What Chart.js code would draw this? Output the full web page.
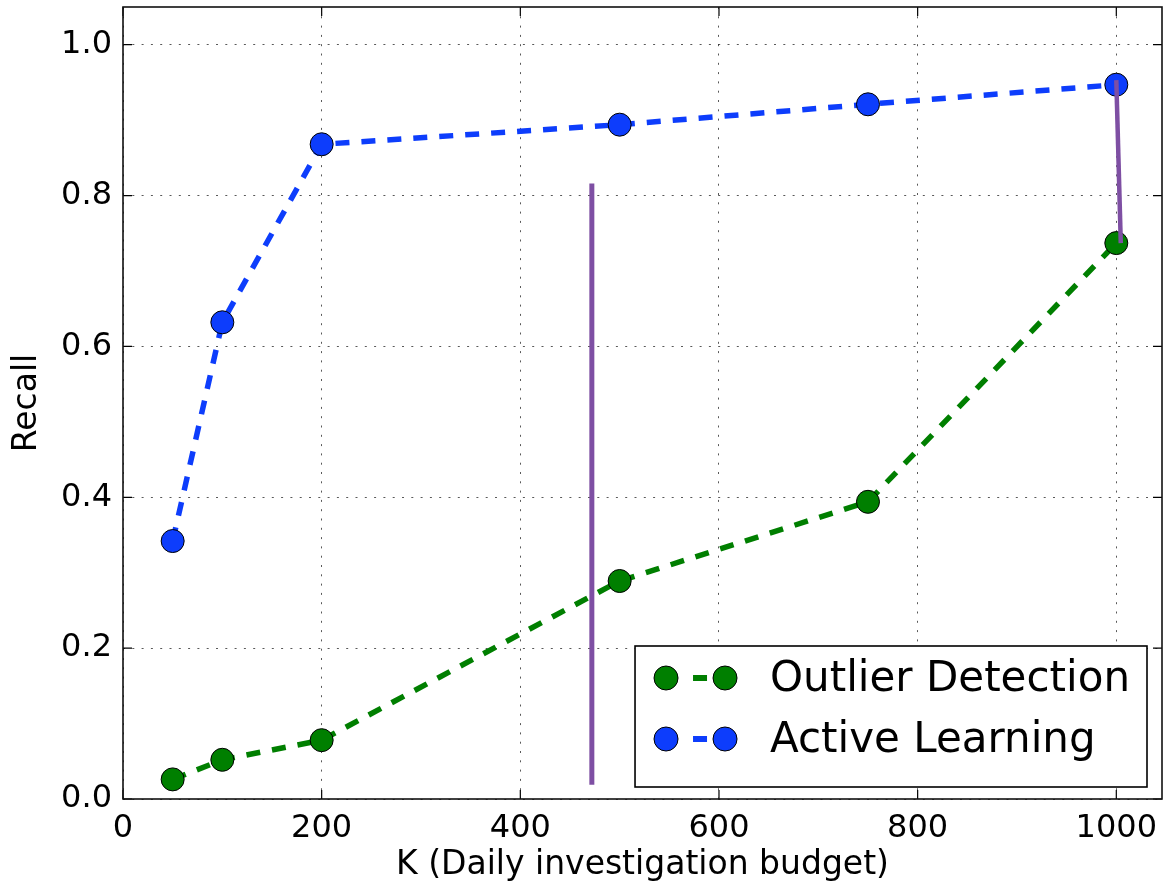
<!DOCTYPE html>
<html>
<head>
<meta charset="utf-8">
<script src="https://cdn.jsdelivr.net/npm/chart.js@4.4.0/dist/chart.umd.min.js"></script>
<style>
  html, body { margin: 0; padding: 0; background: #fff; }
  #wrap { width: 1166px; height: 886px; }
</style>
</head>
<body>
<div id="wrap"><canvas id="recallChart" width="1166" height="886"></canvas></div>
<script>
// K values (daily investigation budget)
var budgets = [50, 100, 200, 500, 750, 1000];
var outlierRecall = [0.026, 0.052, 0.078, 0.289, 0.394, 0.737];
var activeRecall = [0.342, 0.632, 0.868, 0.894, 0.921, 0.947];
var seriesNames = ['Outlier Detection', 'Active Learning'];
var xTicks = [0, 200, 400, 600, 800, 1000];
var yTicks = [0.0, 0.2, 0.4, 0.6, 0.8, 1.0];
// the two purple marks drawn on top
var markOneX = [472, 472];
var markOneY = [0.019, 0.816];
var markTwoX = [1000, 1004.5];
var markTwoY = [0.953, 0.737];

var GREEN = '#007f00';
var BLUE = '#0d3dfc';
var PURPLE = '#7e4fa3';

function toPoints(xs, ys) {
  return xs.map(function (x, i) { return { x: x, y: ys[i] }; });
}

// frame + inside ticks, matplotlib style
var framePlugin = {
  id: 'frame',
  beforeDatasetsDraw: function (chart) {
    var ctx = chart.ctx, a = chart.chartArea;
    var xs = chart.scales.x, ys = chart.scales.y;
    ctx.save();
    ctx.strokeStyle = '#000';
    ctx.lineWidth = 1.2;
    xTicks.forEach(function (v) {
      var px = xs.getPixelForValue(v);
      ctx.beginPath();
      ctx.moveTo(px, a.bottom); ctx.lineTo(px, a.bottom - 9);
      ctx.moveTo(px, a.top); ctx.lineTo(px, a.top + 9);
      ctx.stroke();
    });
    yTicks.forEach(function (v) {
      var py = ys.getPixelForValue(v);
      ctx.beginPath();
      ctx.moveTo(a.left, py); ctx.lineTo(a.left + 9, py);
      ctx.moveTo(a.right, py); ctx.lineTo(a.right - 9, py);
      ctx.stroke();
    });
    ctx.lineWidth = 1.6;
    ctx.strokeStyle = '#111';
    ctx.strokeRect(a.left, a.top, a.right - a.left, a.bottom - a.top);
    ctx.restore();
  }
};

// legend box in the lower right corner
var legendPlugin = {
  id: 'boxLegend',
  afterDatasetsDraw: function (chart) {
    var ctx = chart.ctx, a = chart.chartArea;
    var entries = [
      { label: seriesNames[0], color: GREEN },
      { label: seriesNames[1], color: BLUE }
    ];
    ctx.save();
    ctx.font = '42px "DejaVu Sans"';
    var textW = Math.max.apply(null, entries.map(function (e) { return ctx.measureText(e.label).width; }));
    var w = 135 + textW + 17, h = 141;
    var x0 = a.right - 15 - w, y0 = a.bottom - 12 - h;
    ctx.fillStyle = '#fff';
    ctx.fillRect(x0, y0, w, h);
    ctx.strokeStyle = '#000';
    ctx.lineWidth = 1.6;
    ctx.strokeRect(x0, y0, w, h);
    entries.forEach(function (e, i) {
      var cy = y0 + 32 + i * 61;
      ctx.fillStyle = e.color;
      ctx.fillRect(x0 + 58, cy - 3, 14, 6);
      [x0 + 31, x0 + 90].forEach(function (cx) {
        ctx.beginPath();
        ctx.arc(cx, cy, 12, 0, Math.PI * 2);
        ctx.fillStyle = e.color;
        ctx.fill();
        ctx.lineWidth = 1;
        ctx.strokeStyle = '#000';
        ctx.stroke();
      });
      ctx.fillStyle = '#000';
      ctx.textBaseline = 'middle';
      ctx.textAlign = 'left';
      ctx.fillText(e.label, x0 + 135, cy + 2);
    });
    ctx.restore();
  }
};

var ctx = document.getElementById('recallChart');
var chart = new Chart(ctx, {
  type: 'line',
  data: {
    datasets: [
      {
        label: seriesNames[0],
        data: toPoints(budgets, outlierRecall),
        borderColor: GREEN,
        backgroundColor: GREEN,
        borderWidth: 5.5,
        borderDash: [14, 12],
        pointRadius: 11.5,
        pointBorderColor: '#000',
        pointBorderWidth: 1,
        pointBackgroundColor: GREEN,
        tension: 0,
        order: 2
      },
      {
        label: seriesNames[1],
        data: toPoints(budgets, activeRecall),
        borderColor: BLUE,
        backgroundColor: BLUE,
        borderWidth: 5.5,
        borderDash: [14, 12],
        pointRadius: 11.5,
        pointBorderColor: '#000',
        pointBorderWidth: 1,
        pointBackgroundColor: BLUE,
        tension: 0,
        order: 1
      },
      {
        label: 'mark1',
        data: toPoints(markOneX, markOneY),
        borderColor: PURPLE,
        borderWidth: 5,
        pointRadius: 0,
        order: 0
      },
      {
        label: 'mark2',
        data: toPoints(markTwoX, markTwoY),
        borderColor: PURPLE,
        borderWidth: 4.5,
        pointRadius: 0,
        order: 0
      }
    ]
  },
  options: {
    responsive: false,
    animation: false,
    devicePixelRatio: 1,
    layout: { autoPadding: false, padding: { top: 7, right: 4, left: 0, bottom: 0 } },
    plugins: {
      legend: { display: false },
      tooltip: { enabled: false }
    },
    scales: {
      x: {
        type: 'linear',
        min: 0,
        max: 1046,
        afterFit: function (s) {
          s.height = 87;
          s.paddingLeft = 0; s.paddingRight = 0;
        },
        afterBuildTicks: function (s) {
          s.ticks = xTicks.map(function (v) { return { value: v }; });
        },
        ticks: {
          color: '#000',
          font: { family: 'DejaVu Sans', size: 32 },
          padding: 10,
          maxRotation: 0,
          callback: function (v) { return String(v); }
        },
        grid: { color: 'rgba(0,0,0,0.65)', lineWidth: 1, drawTicks: false },
        border: { display: false, dash: [2, 7.3] },
        title: {
          display: true,
          text: 'K (Daily investigation budget)',
          color: '#000',
          font: { family: 'DejaVu Sans', size: 33, lineHeight: 1 },
          padding: { top: 0, bottom: 4 }
        }
      },
      y: {
        type: 'linear',
        min: 0,
        max: 1.05,
        afterFit: function (s) {
          s.width = 123;
          s.paddingTop = 0; s.paddingBottom = 0;
        },
        afterBuildTicks: function (s) {
          s.ticks = yTicks.map(function (v) { return { value: v }; });
        },
        ticks: {
          color: '#000',
          font: { family: 'DejaVu Sans', size: 32 },
          padding: 11,
          callback: function (v) { return v.toFixed(1); }
        },
        grid: { color: 'rgba(0,0,0,0.65)', lineWidth: 1, drawTicks: false },
        border: { display: false, dash: [2, 7.3] },
        title: {
          display: true,
          text: 'Recall',
          color: '#000',
          font: { family: 'DejaVu Sans', size: 33, lineHeight: 1 },
          padding: { top: 11, bottom: 0 }
        }
      }
    }
  },
  plugins: [framePlugin, legendPlugin]
});
</script>
</body>
</html>
